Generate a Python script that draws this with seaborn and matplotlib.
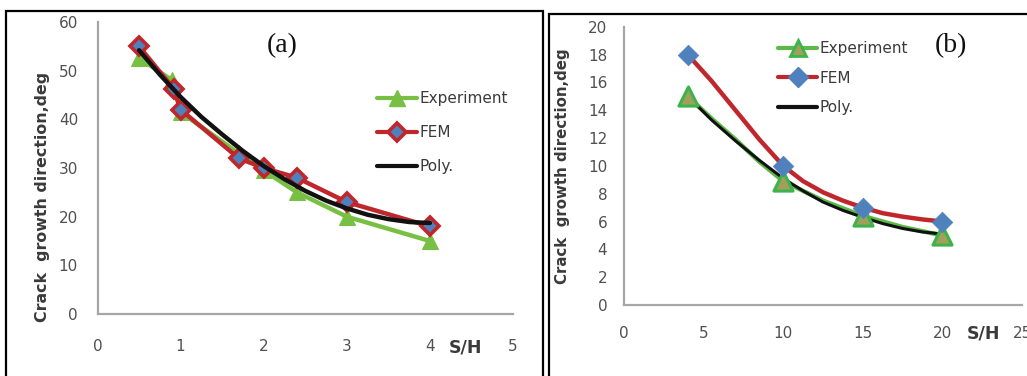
import matplotlib
matplotlib.use("Agg")
import matplotlib.pyplot as plt
import seaborn as sns
import pandas as pd
from matplotlib.lines import Line2D
from matplotlib.patches import Rectangle

# ---------------- data (a) ----------------
a_exp_x = [0.5, 0.9, 1.0, 1.7, 2.0, 2.4, 3.0, 4.0]
a_exp_y = [52.6, 48.0, 41.5, 33.0, 29.5, 25.0, 20.0, 15.0]
a_fem_x = [0.5, 0.92, 1.0, 1.7, 2.0, 2.4, 3.0, 4.0]
a_fem_y = [55.0, 46.2, 42.0, 32.0, 30.0, 28.0, 23.0, 18.0]
a_poly_x = [0.5, 0.75, 1.0, 1.25, 1.5, 1.75, 2.0, 2.25, 2.5, 2.75, 3.0, 3.25, 3.5, 3.75, 4.0]
a_poly_y = [54.2, 49.2, 44.6, 40.5, 36.9, 33.5, 30.4, 27.7, 25.3, 23.3, 21.7, 20.4, 19.5, 18.9, 18.7]

# ---------------- data (b) ----------------
b_exp_x = [4, 10, 15, 20]
b_exp_y = [15.0, 8.9, 6.4, 5.0]
b_exp_curve_x = [4, 5.5, 7, 8.5, 10, 12.5, 15, 17.5, 20]
b_exp_curve_y = [15.0, 13.4, 11.9, 10.3, 8.9, 7.5, 6.4, 5.6, 5.0]
b_fem_x = [4, 10, 15, 20]
b_fem_y = [18.0, 10.0, 7.0, 6.0]
b_fem_curve_x = [4, 5.5, 7, 8.5, 10, 11.25, 12.5, 13.75, 15, 16.25, 17.5, 18.75, 20]
b_fem_curve_y = [18.0, 16.1, 14.0, 11.9, 10.0, 8.9, 8.1, 7.5, 7.0, 6.6, 6.35, 6.15, 6.0]
b_poly_x = [4, 5.5, 7, 8.5, 10, 11.25, 12.5, 13.75, 15, 16.25, 17.5, 18.75, 20]
b_poly_y = [15.0, 13.3, 11.8, 10.4, 9.1, 8.2, 7.4, 6.8, 6.3, 5.85, 5.5, 5.25, 5.1]

legend_labels = ["Experiment", "FEM", "Poly."]
a_xticks = [0, 1, 2, 3, 4, 5]
a_yticks = [0, 10, 20, 30, 40, 50, 60]
b_xticks = [0, 5, 10, 15, 20, 25]
b_yticks = [0, 2, 4, 6, 8, 10, 12, 14, 16, 18, 20]
ylabel_text = "Crack  growth direction,deg"
xlabel_text = "S/H"

sns.set_style("white")
plt.rcParams["font.family"] = ["DejaVu Sans"]

W, H = 1027, 376
fig = plt.figure(figsize=(W / 100, H / 100), dpi=100)

def px_axes(left, right, top, bottom):
    return fig.add_axes([left / W, 1 - bottom / H, (right - left) / W, (bottom - top) / H])

GREEN_A = "#78c044"
GREEN_B = "#5cb947"
RED = "#c0272d"
BLUE = "#4f81bd"
TICKC = "#505050"
AXC = "#a6a6a6"
TXT = "#3a3a3a"

def style_axes(ax, xlim, ylim, xticks, yticks, xpad, ypad):
    ax.set_xlim(*xlim)
    ax.set_ylim(*ylim)
    ax.set_xticks(xticks)
    ax.set_yticks(yticks)
    ax.set_xticklabels([str(t) for t in xticks])
    ax.set_yticklabels([str(t) for t in yticks])
    for s in ["top", "right"]:
        ax.spines[s].set_visible(False)
    for s in ["left", "bottom"]:
        ax.spines[s].set_color(AXC)
        ax.spines[s].set_linewidth(1.6)
    ax.tick_params(axis="x", length=0, pad=xpad, labelsize=11, labelcolor=TICKC)
    ax.tick_params(axis="y", length=0, pad=ypad, labelsize=11, labelcolor=TICKC)
    ax.set_facecolor("none")
    ax.set_xlabel("")
    ax.set_ylabel("")

# ---------------- panel (a) ----------------
axa = px_axes(97.5, 513, 22, 314)
sns.lineplot(x=a_exp_x, y=a_exp_y, ax=axa, color=GREEN_A, lw=3.2, marker="^",
             markersize=12, markerfacecolor=GREEN_A, markeredgecolor=GREEN_A,
             sort=False, estimator=None, legend=False)
sns.lineplot(x=a_fem_x, y=a_fem_y, ax=axa, color=RED, lw=3.2, marker="D",
             markersize=9, markerfacecolor=BLUE, markeredgecolor=RED, markeredgewidth=2.6,
             sort=False, estimator=None, legend=False)
sns.lineplot(x=a_poly_x, y=a_poly_y, ax=axa, color="#111111", lw=3.2,
             sort=False, estimator=None, legend=False)
style_axes(axa, (0, 5), (0, 60), a_xticks, a_yticks, xpad=18, ypad=14)

h_a = [Line2D([], [], color=GREEN_A, lw=3, marker="^", markersize=12,
              markerfacecolor=GREEN_A, markeredgecolor=GREEN_A),
       Line2D([], [], color=RED, lw=3, marker="D", markersize=9,
              markerfacecolor=BLUE, markeredgecolor=RED, markeredgewidth=2.6),
       Line2D([], [], color="#111111", lw=3)]
leg = axa.legend(h_a, legend_labels, loc="upper left",
                 bbox_to_anchor=((371 - 97.5) / 415.5, (314 - 85) / 292),
                 frameon=False, fontsize=11, handlelength=2.6, handletextpad=0.15,
                 labelspacing=1.25, borderaxespad=0)
for t in leg.get_texts():
    t.set_color(TXT)

fig.text(282 / W, 1 - 46 / H, "(a)", family=["Liberation Serif", "DejaVu Serif"],
         fontsize=20, ha="center", va="center", color="#111111")
fig.text(466 / W, 1 - 348 / H, xlabel_text, fontsize=12.5, fontweight="bold",
         ha="center", va="center", color=TXT)
fig.text(43 / W, 1 - 197 / H, ylabel_text, fontsize=11.4, fontweight="bold",
         rotation=90, ha="center", va="center", color=TXT)

# ---------------- panel (b) ----------------
axb = px_axes(624, 1022, 26.7, 305)
sns.lineplot(x=b_exp_curve_x, y=b_exp_curve_y, ax=axb, color=GREEN_B, lw=3.2,
             sort=False, estimator=None, legend=False)
sns.scatterplot(x=b_exp_x, y=b_exp_y, ax=axb, marker="^", s=190, color="#a0a05a",
                edgecolor="#3cb44b", linewidth=2.2, legend=False, zorder=3)
sns.lineplot(x=b_fem_curve_x, y=b_fem_curve_y, ax=axb, color=RED, lw=3.2,
             sort=False, estimator=None, legend=False)
sns.scatterplot(x=b_fem_x, y=b_fem_y, ax=axb, marker="D", s=110, color=BLUE,
                edgecolor=BLUE, linewidth=0.5, legend=False, zorder=3)
sns.lineplot(x=b_poly_x, y=b_poly_y, ax=axb, color="#111111", lw=2.2,
             sort=False, estimator=None, legend=False)
style_axes(axb, (0, 25), (0, 20), b_xticks, b_yticks, xpad=15, ypad=12)

h_b = [Line2D([], [], color=GREEN_B, lw=3, marker="^", markersize=12,
              markerfacecolor="#a0a05a", markeredgecolor="#3cb44b", markeredgewidth=2),
       Line2D([], [], color=RED, lw=3, marker="D", markersize=10,
              markerfacecolor=BLUE, markeredgecolor=BLUE),
       Line2D([], [], color="#111111", lw=3)]
legb = axb.legend(h_b, legend_labels, loc="upper left",
                  bbox_to_anchor=((772 - 624) / 398, (305 - 35) / 278.3),
                  frameon=False, fontsize=11, handlelength=2.55, handletextpad=0.15,
                  labelspacing=0.95, borderaxespad=0)
for t in legb.get_texts():
    t.set_color(TXT)

fig.text(951 / W, 1 - 46 / H, "(b)", family=["Liberation Serif", "DejaVu Serif"],
         fontsize=20, ha="center", va="center", color="#111111")
fig.text(984 / W, 1 - 333 / H, xlabel_text, fontsize=12.5, fontweight="bold",
         ha="center", va="center", color=TXT)
fig.text(563 / W, 1 - 166 / H, ylabel_text, fontsize=10.8, fontweight="bold",
         rotation=90, ha="center", va="center", color=TXT)

# ---------------- panel frames ----------------
fig.patches.append(Rectangle((6 / W, -0.05), (543 - 6) / W, (1 - 10.5 / H) + 0.05,
                             transform=fig.transFigure, fill=False, ec="black", lw=1.6))
fig.patches.append(Rectangle((549 / W, -0.05), (1030 - 549) / W, (1 - 13.5 / H) + 0.05,
                             transform=fig.transFigure, fill=False, ec="black", lw=1.6))

fig.savefig("out.png", dpi=100)
